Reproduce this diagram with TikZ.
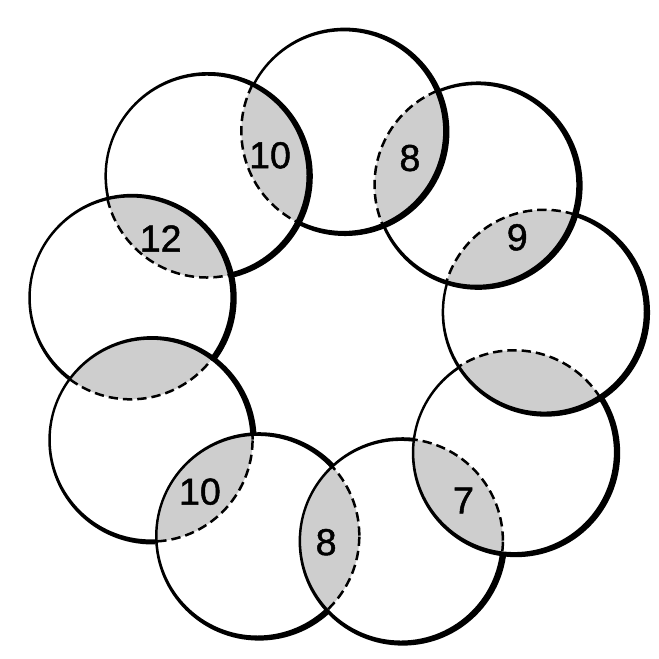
\documentclass[tikz,border=0pt]{standalone}
\usepackage{fontspec}
\newfontfamily\lensfont[FakeBold=1.3]{Liberation Sans}
\usetikzlibrary{calc}
\definecolor{lensgray}{RGB}{206,206,206}
\newcommand{\ringR}{102}
\tikzset{
  lensfill/.style={fill=lensgray},
  ringline/.style={fill=black, even odd rule},
  hiddenarc/.style={draw=black, line width=0.075cm, dash pattern=on 0.28cm off 0.15cm},
  lenslabel/.style={font=\lensfont\fontsize{32}{32}\selectfont, inner sep=0pt},
}

\begin{document}
\begin{tikzpicture}[x=0.03cm,y=0.03cm]
\fill[white] (0,0) rectangle (658,659);
\useasboundingbox (0,0) rectangle (658,659);
% nine circles on a ring, c1 at the top, going clockwise
\coordinate (mid) at (336,318);
\foreach \k in {1,...,9}
  \coordinate (c\k) at ($(mid)+({88-40*(\k-1)}:210)$);
% shaded overlaps
\foreach \k in {1,...,9}{
  \pgfmathtruncatemacro{\f}{mod(\k+7,9)+1}
  \begin{scope}
    \clip (c\k) circle (\ringR);
    \fill[lensfill] (c\f) circle (\ringR);
  \end{scope}
}
% outlines, each circle hidden under the one before it
\foreach \k in {1,...,9}{
  \pgfmathtruncatemacro{\f}{mod(\k+7,9)+1}
  \begin{scope}
    \clip (-20,-20) -- (-20,680) -- (680,680) -- (680,-20) -- cycle
          (c\f) circle (\ringR);
    \fill[ringline] ($(c\k)+(1.9,-0.7)$) circle (\ringR+2.2)
                    (c\k) circle (\ringR-2.2);
  \end{scope}
  \begin{scope}
    \clip (c\f) circle (\ringR);
    \draw[hiddenarc] (c\k) circle (\ringR);
  \end{scope}
}
% numbers
\node[lenslabel] (n91) at ($(c9)!0.5!(c1)+(-5,-2)$) {10};
\node[lenslabel] (n12) at ($(c1)!0.5!(c2)$) {8};
\node[lenslabel] (n23) at ($(c2)!0.5!(c3)+(7,11)$) {9};
\node[lenslabel] (n45) at ($(c4)!0.5!(c5)+(6,-4)$) {7};
\node[lenslabel] (n56) at ($(c5)!0.5!(c6)+(-3,-4)$) {8};
\node[lenslabel] (n67) at ($(c6)!0.5!(c7)+(-4,-4)$) {10};
\node[lenslabel] (n89) at ($(c8)!0.5!(c9)+(-8,-2)$) {12};
\end{tikzpicture}
\end{document}
